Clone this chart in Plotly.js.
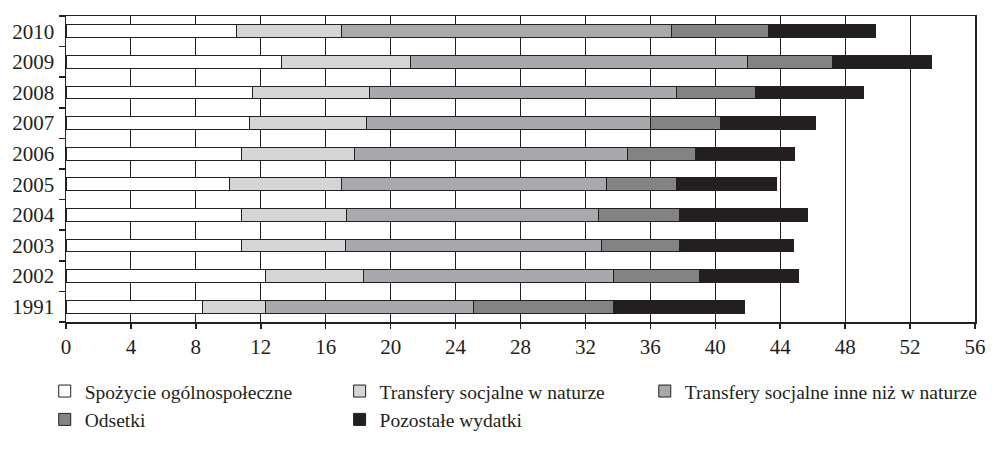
<!DOCTYPE html>
<html><head><meta charset="utf-8">
<script src="https://cdn.plot.ly/plotly-3.0.1.min.js"></script>
<style>html,body{margin:0;padding:0;background:#fff}</style>
</head><body><div id="chart" style="width:1002px;height:451px"></div>
<script>
const years = ['1991','2002','2003','2004','2005','2006','2007','2008','2009','2010'];
const spozycie =        [8.4, 12.3, 10.8, 10.8, 10.1, 10.8, 11.3, 11.5, 13.3, 10.5];
const transferyNatura = [3.9,  6.0,  6.4,  6.5,  6.9,  7.0,  7.2,  7.2,  7.9,  6.5];
const transferyInne =   [12.8, 15.4, 15.8, 15.5, 16.3, 16.8, 17.5, 18.9, 20.8, 20.3];
const odsetki =         [8.6,  5.3,  4.8,  5.0,  4.3,  4.2,  4.3,  4.9,  5.2,  6.0];
const pozostale =       [8.1,  6.1,  7.0,  7.9,  6.2,  6.1,  5.9,  6.6,  6.1,  6.6];
const seriesNames = ['Spożycie ogólnospołeczne','Transfery socjalne w naturze','Transfery socjalne inne niż w naturze','Odsetki','Pozostałe wydatki'];
const xTicks = [0,4,8,12,16,20,24,28,32,36,40,44,48,52,56];

const ink = '#231f20';
const FONT = '"Liberation Serif", "DejaVu Serif", serif';
const colors = ['#ffffff','#d4d5d7','#a8a9ac','#838384','#231f20'];
const legendOf = ['legend','legend2','legend3','legend','legend2'];
const values = [spozycie, transferyNatura, transferyInne, odsetki, pozostale];

const traces = values.map((v,i)=>({
  type:'bar', orientation:'h', x:v, y:years, name:seriesNames[i],
  legend: legendOf[i],
  marker:{color:colors[i], line:{color:ink, width:1}},
  hoverinfo:'x+name'
}));

const legBase = {orientation:'v', traceorder:'normal', font:{family:FONT,size:19.5,color:ink},
  bgcolor:'rgba(0,0,0,0)', xanchor:'left', yanchor:'top', y:-0.163, itemclick:false, tracegroupgap:0};

const layout = {
  width:1002, height:451,
  margin:{l:66, r:27, t:16, b:126},
  paper_bgcolor:'#fff', plot_bgcolor:'#fff',
  barmode:'stack', bargap:0.58,
  font:{family:FONT, color:ink},
  xaxis:{range:[0,56], tickvals:xTicks, ticktext:xTicks.map(String),
    showgrid:true, gridcolor:ink, gridwidth:1, zeroline:false,
    showline:true, linecolor:ink, linewidth:1.5, mirror:true,
    ticks:'outside', ticklen:5, tickwidth:1.5, tickcolor:ink,
    tickfont:{family:FONT, size:21, color:ink}},
  yaxis:{type:'category', categoryorder:'array', categoryarray:years,
    tickson:'boundaries', ticks:'outside', ticklen:6, tickwidth:1.5, tickcolor:ink,
    showgrid:false, zeroline:false, showline:true, linecolor:ink, linewidth:1.5, mirror:true,
    ticklabelstandoff:6,
    tickfont:{family:FONT, size:21, color:ink}},
  legend: Object.assign({}, legBase, {x:-0.0234}),
  legend2: Object.assign({}, legBase, {x:0.301}),
  legend3: Object.assign({}, legBase, {x:0.6367}),
  showlegend:true
};

Plotly.newPlot('chart', traces, layout, {displayModeBar:false, staticPlot:true});
</script></body></html>
